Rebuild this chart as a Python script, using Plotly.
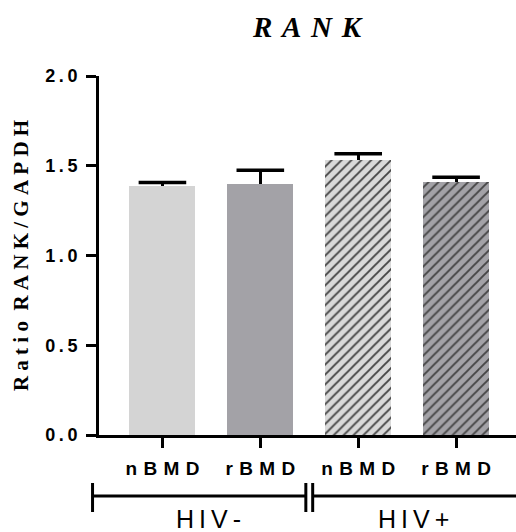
import plotly.graph_objects as go

# ---- data ----
categories = ["nBMD", "rBMD", "nBMD", "rBMD"]
groups = ["HIV-", "HIV+"]
values = [1.39, 1.40, 1.53, 1.41]
errors = [0.017, 0.075, 0.037, 0.026]
y_ticks = [0.0, 0.5, 1.0, 1.5, 2.0]

# ---- styling ----
W, H = 516, 532
fills = ["#d4d4d4", "#a3a2a7", "#d9d9d9", "#a3a2a7"]
hatch = ["", "", "/", "/"]
SP_X = "\u2004"
SP_Y = "\u2009"
SP_L = "\u2005"
SP_T = "\u2004"
SP_G = "\u2009"


def spaced(s, sep):
    return sep.join(list(s))


x_pos = list(range(len(categories)))
x_range = [-0.648, 3.612]
tops = [v + e for v, e in zip(values, errors)]

fig = go.Figure()
fig.add_trace(go.Bar(
    x=x_pos,
    y=values,
    width=0.673,
    marker=dict(
        color=fills,
        line=dict(width=0),
        pattern=dict(shape=hatch, fgcolor="black", fgopacity=1, size=7,
                     solidity=0.27, fillmode="overlay"),
    ),
    error_y=dict(type="data", symmetric=False, array=errors,
                 arrayminus=[0] * len(errors), color="black",
                 thickness=3, width=0),
    showlegend=False,
))
# error-bar caps (upper only)
fig.add_trace(go.Scatter(
    x=x_pos, y=tops, mode="markers",
    marker=dict(symbol="line-ew-open", size=34, color="black",
                line=dict(color="black", width=3.5)),
    showlegend=False, hoverinfo="skip",
))

axis_font = "Arial, Liberation Sans, sans-serif"
serif = "Times New Roman, Liberation Serif, serif"

fig.update_layout(
    width=W, height=H,
    margin=dict(l=98.5, r=0, t=76, b=97, autoexpand=False),
    plot_bgcolor="white", paper_bgcolor="white",
    bargap=0,
    xaxis=dict(
        range=x_range, tickvals=x_pos,
        ticktext=["<b>" + spaced(c, SP_X) + "</b>" for c in categories],
        tickfont=dict(family=axis_font, size=19, color="black"),
        showline=True, linewidth=3, linecolor="black",
        ticks="outside", ticklen=10, tickwidth=3, tickcolor="black",
        showgrid=False, zeroline=False, automargin=False,
        ticklabelstandoff=4,
    ),
    yaxis=dict(
        range=[0, 2], tickvals=y_ticks,
        ticktext=["<b>" + spaced(f"{v:.1f}", SP_Y) + "</b>" for v in y_ticks],
        tickfont=dict(family=axis_font, size=18, color="black"),
        showline=True, linewidth=3, linecolor="black",
        ticks="outside", ticklen=10, tickwidth=3, tickcolor="black",
        showgrid=False, zeroline=False, automargin=False,
        ticklabelstandoff=5,
    ),
)

# title and y-axis label
fig.add_annotation(
    text="<b><i>" + spaced("RANK", SP_T) + "</i></b>",
    xref="paper", yref="paper", x=0.5, y=1 + (76 - 27) / 359,
    xanchor="center", yanchor="middle", showarrow=False,
    font=dict(family=serif, size=29, color="black"),
)
fig.add_annotation(
    text="<b>" + spaced("Ratio", SP_L) + SP_L * 2 + spaced("RANK/GAPDH", SP_L) + "</b>",
    xref="paper", yref="paper", x=(20 - 98.5) / 417.5, y=0.5,
    xanchor="center", yanchor="middle", textangle=-90, showarrow=False,
    font=dict(family=serif, size=21, color="black"),
)


# group brackets below axis
def xp(v):
    return (v - x_range[0]) / (x_range[1] - x_range[0])


def px_to_paper_y(py):
    return (435 - py) / 359


y_line = px_to_paper_y(496)
y_top = px_to_paper_y(483)
y_bot = px_to_paper_y(512)
left_end = xp(-0.714)
mid = 1.5
x_mid_a = xp(mid - 0.035)
x_mid_b = xp(mid + 0.035)
right_end = xp(x_range[1]) + 0.05

line = dict(color="black", width=3)
fig.add_shape(type="line", xref="paper", yref="paper", x0=left_end, x1=x_mid_a,
              y0=y_line, y1=y_line, line=line)
fig.add_shape(type="line", xref="paper", yref="paper", x0=x_mid_b, x1=right_end,
              y0=y_line, y1=y_line, line=line)
for xv in [left_end, x_mid_a, x_mid_b]:
    fig.add_shape(type="line", xref="paper", yref="paper", x0=xv, x1=xv,
                  y0=y_top, y1=y_bot, line=line)

group_centers = [xp(0.47), xp(2.56)]
for g, gx in zip(groups, group_centers):
    fig.add_annotation(
        text=spaced(g, SP_G), xref="paper", yref="paper", x=gx,
        y=px_to_paper_y(503), xanchor="center", yanchor="top", showarrow=False,
        font=dict(family=axis_font, size=25, color="black"),
    )

fig.write_html("out.html")
